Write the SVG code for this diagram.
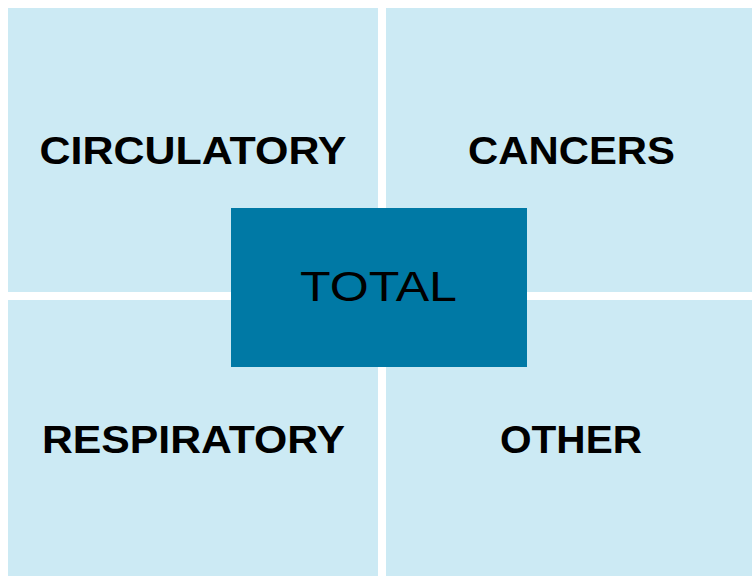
<svg xmlns="http://www.w3.org/2000/svg" width="752" height="576" viewBox="0 0 752 576">
<style>
.q{fill:#CCEAF4}
.lbl{font-family:"Liberation Sans",Arial,sans-serif;font-weight:bold;font-size:39px;fill:#000;text-anchor:middle}
.tot{font-family:"Liberation Sans",Arial,sans-serif;font-size:43px;fill:#000;text-anchor:middle}
</style>
<rect width="752" height="576" fill="#fff"/>
<g id="circulatory"><rect class="q" x="8" y="8" width="370" height="284"/><text class="lbl" x="193" y="164" textLength="307" lengthAdjust="spacingAndGlyphs">CIRCULATORY</text></g>
<g id="cancers"><rect class="q" x="386" y="8" width="366" height="284"/><text class="lbl" x="571.5" y="164" textLength="207" lengthAdjust="spacingAndGlyphs">CANCERS</text></g>
<g id="respiratory"><rect class="q" x="8" y="300" width="370" height="276"/><text class="lbl" x="193.5" y="453" textLength="303" lengthAdjust="spacingAndGlyphs">RESPIRATORY</text></g>
<g id="other"><rect class="q" x="386" y="300" width="366" height="276"/><text class="lbl" x="571" y="453" textLength="142" lengthAdjust="spacingAndGlyphs">OTHER</text></g>
<g id="total"><rect x="231" y="208" width="296" height="159" fill="#0079A5"/><text class="tot" x="378.5" y="301" textLength="157" lengthAdjust="spacingAndGlyphs">TOTAL</text></g>
<g id="connectors"/>
</svg>
